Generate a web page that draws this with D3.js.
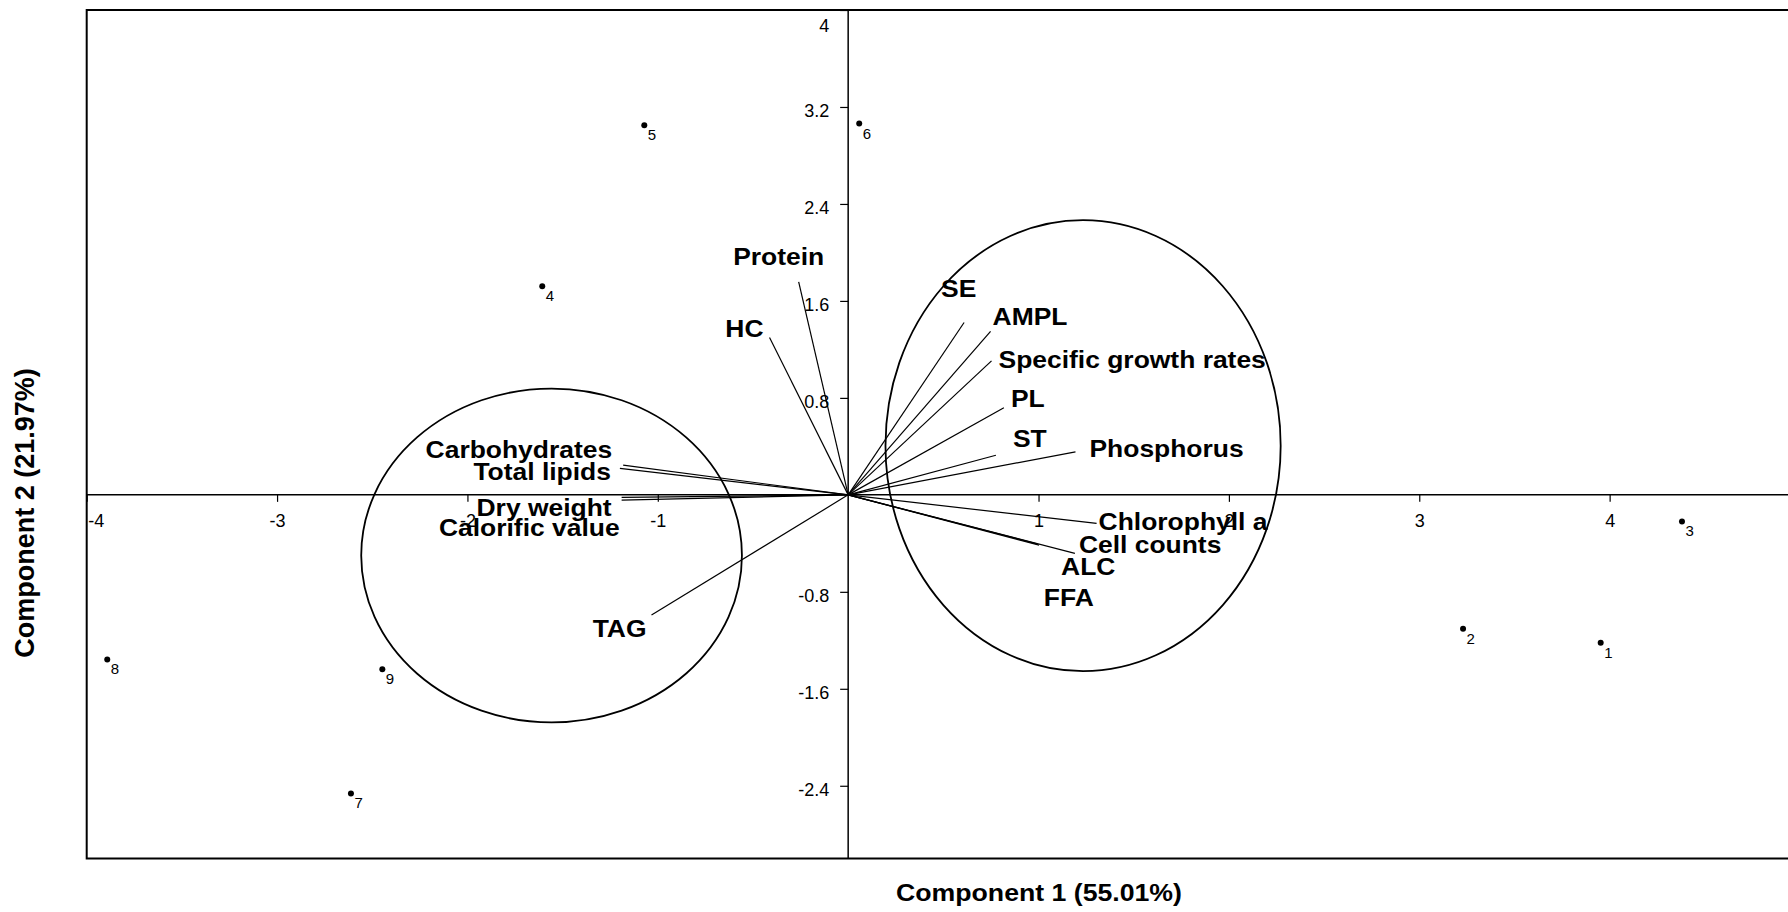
<!DOCTYPE html>
<html>
<head>
<meta charset="utf-8">
<script src="https://cdn.jsdelivr.net/npm/d3@7"></script>
<style>
  body { margin: 0; background: #fff; }
  text { font-family: "Liberation Sans", Arial, sans-serif; fill: #000; }
</style>
</head>
<body>
<div id="chart"></div>
<script>
// Sample scores (component 1, component 2)
const sampleIds = ["1", "2", "3", "4", "5", "6", "7", "8", "9"];
const sampleX = [3.953, 3.230, 4.380, -1.607, -1.071, 0.058, -2.612, -3.892, -2.447];
const sampleY = [-1.221, -1.105, -0.219, 1.721, 3.049, 3.063, -2.463, -1.358, -1.438];

// Variable loadings (vector end points)
const variables = ["Protein", "HC", "SE", "AMPL", "Specific growth rates", "PL", "ST", "Phosphorus",
  "Chlorophyll a", "Cell counts", "ALC", "FFA", "Carbohydrates", "Total lipids", "Dry weight",
  "Calorific value", "TAG"];
const loadingX = [-0.260, -0.413, 0.609, 0.748, 0.753, 0.818, 0.776, 1.194,
  1.305, 1.191, 1.003, 0.986, -1.182, -1.199, -1.190, -1.190, -1.033];
const loadingY = [1.757, 1.298, 1.422, 1.348, 1.105, 0.718, 0.327, 0.355,
  -0.236, -0.483, -0.415, -0.402, 0.245, 0.218, -0.021, -0.044, -0.992];

// Group ellipses (centre and radii in axis units)
const ellipseCx = [-1.558, 1.234];
const ellipseCy = [-0.5, 0.406];
const ellipseRx = [1.0, 1.038];
const ellipseRy = [1.377, 1.86];

// Axis ticks
const xTicks = [-4, -3, -2, -1, 1, 2, 3, 4];
const yTicks = [4, 3.2, 2.4, 1.6, 0.8, -0.8, -1.6, -2.4];

const xTitle = "Component 1 (55.01%)";
const yTitle = "Component 2 (21.97%)";

// label placement relative to vector end (px), text anchor
const labelLayout = {
  "Protein": [-20, -17, "middle"],
  "HC": [-6, -1, "end"],
  "SE": [-23, -25, "start"],
  "AMPL": [2, -6, "start"],
  "Specific growth rates": [7, 7, "start"],
  "PL": [7, -1, "start"],
  "ST": [17, -8, "start"],
  "Phosphorus": [14, 5, "start"],
  "Chlorophyll a": [2, 7, "start"],
  "Cell counts": [4, 0, "start"],
  "ALC": [22, 30, "start"],
  "FFA": [8, 62, "start"],
  "Carbohydrates": [-11, -7, "end"],
  "Total lipids": [-9, 12, "end"],
  "Dry weight": [-10, 19, "end"],
  "Calorific value": [-2, 36, "end"],
  "TAG": [-5, 22, "end"]
};

const width = 1788;
const height = 912;

const svg = d3.select("#chart")
  .append("svg")
  .attr("width", width)
  .attr("height", height)
  .attr("viewBox", [0, 0, width, height]);

const x = d3.scaleLinear().domain([-4, 5]).range([86.7, 1800]);
const y = d3.scaleLinear().domain([-3, 4]).range([858.5, 10]);

// Frame
svg.append("rect")
  .attr("x", x(-4))
  .attr("y", y(4))
  .attr("width", x(5) - x(-4))
  .attr("height", y(-3) - y(4))
  .attr("fill", "none")
  .attr("stroke", "#000")
  .attr("stroke-width", 2);

// Zero lines
svg.append("line")
  .attr("x1", x(-4)).attr("x2", x(5))
  .attr("y1", y(0)).attr("y2", y(0))
  .attr("stroke", "#000").attr("stroke-width", 1.5);
svg.append("line")
  .attr("x1", x(0)).attr("x2", x(0))
  .attr("y1", y(4)).attr("y2", y(-3))
  .attr("stroke", "#000").attr("stroke-width", 1.5);

// x axis along y = 0
const xAxis = svg.append("g")
  .attr("transform", `translate(0,${y(0)})`)
  .call(d3.axisBottom(x).tickValues(xTicks).tickFormat(d => String(d)).tickSize(7).tickPadding(12));
xAxis.select(".domain").remove();
xAxis.selectAll("text").style("font-size", "18px").attr("font-family", null);
xAxis.selectAll(".tick")
  .filter(d => d === -4)
  .select("text")
  .attr("text-anchor", "start")
  .attr("x", 1);

// y axis along x = 0
const yAxis = svg.append("g")
  .attr("transform", `translate(${x(0)},0)`)
  .call(d3.axisLeft(y).tickValues(yTicks).tickFormat(d => String(d)).tickSize(8).tickPadding(11));
yAxis.select(".domain").remove();
yAxis.selectAll("text").style("font-size", "18px").attr("font-family", null).attr("dy", "0.52em");
yAxis.selectAll(".tick")
  .filter(d => d === 4)
  .select("text")
  .attr("dy", "1.2em");
svg.selectAll(".tick line").attr("stroke", "#000").attr("stroke-width", 1.2);

// Ellipses
svg.append("g")
  .selectAll("ellipse")
  .data(ellipseCx.map((cx, i) => ({ cx, cy: ellipseCy[i], rx: ellipseRx[i], ry: ellipseRy[i] })))
  .join("ellipse")
  .attr("cx", d => x(d.cx))
  .attr("cy", d => y(d.cy))
  .attr("rx", d => x(d.cx + d.rx) - x(d.cx))
  .attr("ry", d => y(d.cy) - y(d.cy + d.ry))
  .attr("fill", "none")
  .attr("stroke", "#000")
  .attr("stroke-width", 1.8);

// Loading vectors
const loadings = variables.map((name, i) => ({ name, lx: loadingX[i], ly: loadingY[i] }));

svg.append("g")
  .selectAll("line")
  .data(loadings)
  .join("line")
  .attr("x1", x(0))
  .attr("y1", y(0))
  .attr("x2", d => x(d.lx))
  .attr("y2", d => y(d.ly))
  .attr("stroke", "#000")
  .attr("stroke-width", 1.2);

svg.append("g")
  .selectAll("text")
  .data(loadings)
  .join("text")
  .attr("transform", d => {
    const p = labelLayout[d.name];
    return `translate(${x(d.lx) + p[0]},${y(d.ly) + p[1]}) scale(1.15,1)`;
  })
  .attr("text-anchor", d => labelLayout[d.name][2])
  .style("font-size", "23px")
  .style("font-weight", "bold")
  .text(d => d.name);

// Sample points
const samples = sampleIds.map((id, i) => ({ id, sx: sampleX[i], sy: sampleY[i] }));

svg.append("g")
  .selectAll("circle")
  .data(samples)
  .join("circle")
  .attr("cx", d => x(d.sx))
  .attr("cy", d => y(d.sy))
  .attr("r", 3)
  .attr("fill", "#000");

svg.append("g")
  .selectAll("text")
  .data(samples)
  .join("text")
  .attr("x", d => x(d.sx) + 3.5)
  .attr("y", d => y(d.sy) + 15)
  .style("font-size", "15px")
  .text(d => d.id);

// Axis titles
svg.append("text")
  .attr("transform", "translate(1039,901) scale(1.16,1)")
  .attr("text-anchor", "middle")
  .style("font-size", "23px")
  .style("font-weight", "bold")
  .text(xTitle);

svg.append("text")
  .attr("transform", "translate(34,513) rotate(-90)")
  .attr("text-anchor", "middle")
  .style("font-size", "27px")
  .style("font-weight", "bold")
  .text(yTitle);
</script>
</body>
</html>
